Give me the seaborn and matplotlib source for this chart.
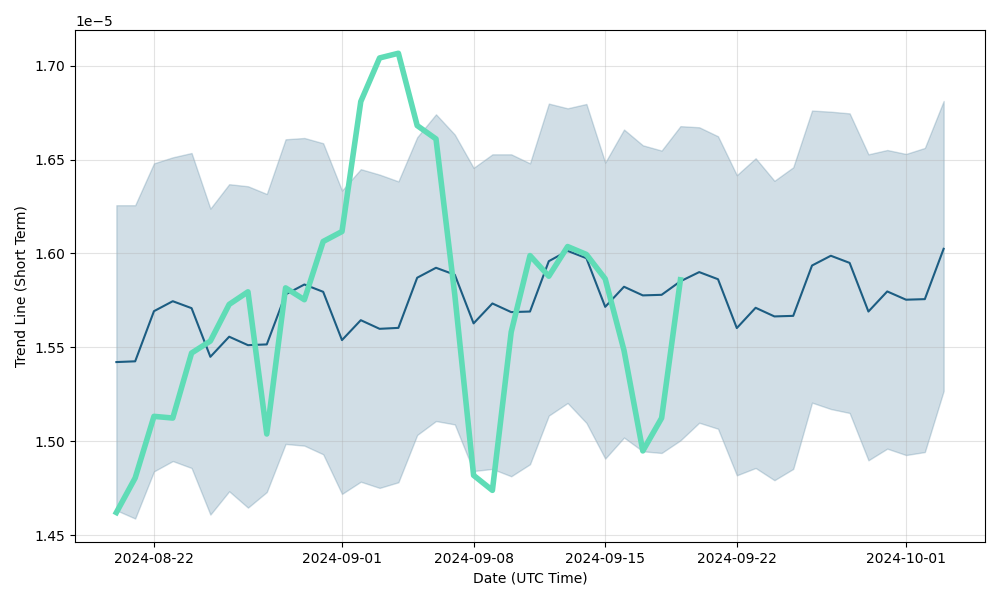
import numpy as np
import pandas as pd
import matplotlib
matplotlib.use("Agg")
import matplotlib.pyplot as plt
import seaborn as sns

dates = pd.date_range("2024-08-20", "2024-10-03", freq="D")

mean_vals = [1.5422, 1.5426, 1.5693, 1.5746, 1.5709, 1.5450, 1.5557, 1.5512, 1.5516, 1.5782,
             1.5835, 1.5796, 1.5539, 1.5645, 1.5599, 1.5604, 1.5871, 1.5924, 1.5887, 1.5628,
             1.5734, 1.5688, 1.5691, 1.5959, 1.6014, 1.5975, 1.5716, 1.5823, 1.5777, 1.5780,
             1.5852, 1.5901, 1.5863, 1.5603, 1.5711, 1.5665, 1.5668, 1.5936, 1.5988, 1.5950,
             1.5691, 1.5798, 1.5754, 1.5757, 1.6025]

upper_vals = [1.6257, 1.6257, 1.6480, 1.6512, 1.6535, 1.6239, 1.6369, 1.6358, 1.6317, 1.6608,
              1.6615, 1.6587, 1.6335, 1.6449, 1.6420, 1.6384, 1.6619, 1.6741, 1.6633, 1.6456,
              1.6528, 1.6528, 1.6480, 1.6798, 1.6773, 1.6796, 1.6484, 1.6660, 1.6576, 1.6548,
              1.6678, 1.6672, 1.6624, 1.6417, 1.6507, 1.6387, 1.6459, 1.6761, 1.6755, 1.6746,
              1.6528, 1.6551, 1.6530, 1.6562, 1.6812]

lower_vals = [1.4633, 1.4589, 1.4840, 1.4895, 1.4858, 1.4610, 1.4734, 1.4647, 1.4730, 1.4986,
              1.4977, 1.4931, 1.4720, 1.4785, 1.4752, 1.4782, 1.5034, 1.5108, 1.5090, 1.4842,
              1.4853, 1.4814, 1.4878, 1.5137, 1.5204, 1.5098, 1.4908, 1.5020, 1.4947, 1.4938,
              1.5005, 1.5099, 1.5067, 1.4819, 1.4858, 1.4793, 1.4853, 1.5206, 1.5172, 1.5151,
              1.4899, 1.4961, 1.4927, 1.4943, 1.5268]

actual_vals = [1.4621, 1.4805, 1.5133, 1.5124, 1.5470, 1.5534, 1.5729, 1.5796, 1.5039, 1.5817,
               1.5754, 1.6064, 1.6117, 1.6809, 1.7041, 1.7066, 1.6681, 1.6610, 1.5780, 1.4819,
               1.4739, 1.5582, 1.5989, 1.5879, 1.6037, 1.5995, 1.5865, 1.5484, 1.4949, 1.5124,
               1.5860]

scale = 1e-5
df = pd.DataFrame({
    "date": dates,
    "mean": np.array(mean_vals) * scale,
    "upper": np.array(upper_vals) * scale,
    "lower": np.array(lower_vals) * scale,
})
df_act = pd.DataFrame({"date": dates[:len(actual_vals)],
                       "actual": np.array(actual_vals) * scale})

line_color = "#1c5d82"
green = "#5fdcb6"

fig, ax = plt.subplots(figsize=(10, 6), dpi=100)
ax.fill_between(df["date"], df["lower"], df["upper"], color=line_color, alpha=0.2)
sns.lineplot(data=df, x="date", y="mean", color=line_color, linewidth=1.5, ax=ax)
sns.lineplot(data=df_act, x="date", y="actual", color=green, linewidth=4, ax=ax)
ax.grid(True, alpha=0.35)
ax.set_xlabel("Date (UTC Time)")
ax.set_ylabel("Trend Line (Short Term)")
fig.subplots_adjust(left=0.075, right=0.985, top=0.95, bottom=0.097)
fig.savefig("out.png", dpi=100)
